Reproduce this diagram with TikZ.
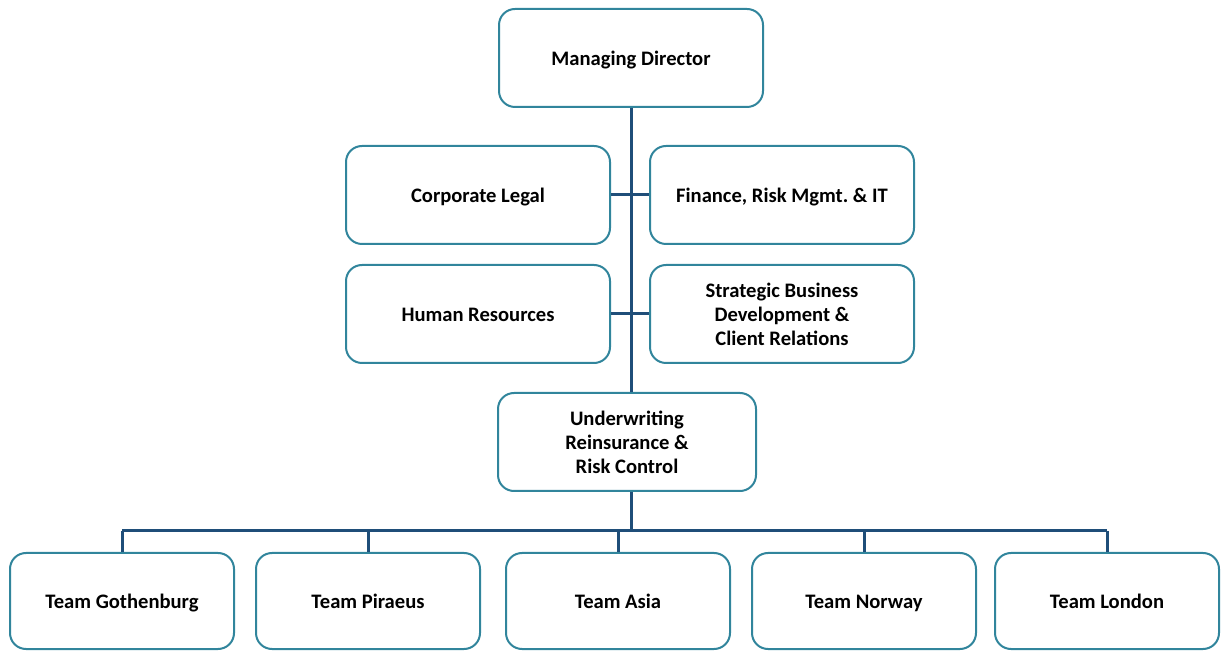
\documentclass[tikz,border=0pt]{standalone}
\usepackage{fontspec}
\setmainfont{Carlito}
\usepackage{tikz}
\usetikzlibrary{positioning}

\definecolor{boxteal}{RGB}{49,133,156}
\definecolor{linenavy}{RGB}{31,78,121}

\tikzset{
    unit/.style={draw=boxteal, line width=1pt, rounded corners=8pt,
                 fill=white, align=center,
                 minimum width=132pt, minimum height=49pt,
                 font=\fontsize{10.3}{12}\selectfont\bfseries},
    oneline/.style={text height=9pt, text depth=1pt},
    team/.style={unit, oneline, minimum width=112pt, minimum height=48pt},
    link/.style={draw=linenavy, line width=1.5pt}
}

\begin{document}
\begin{tikzpicture}[x=0.5pt,
            y=-0.5pt]

        \useasboundingbox (0,0) rectangle (1226,651);

        \node[unit,oneline] (md)    at (631,58)  {Managing Director};
        \node[unit,oneline] (legal) at (478,195) {Corporate Legal};
        \node[unit,oneline] (fin)   at (782,195) {Finance, Risk Mgmt.\ \& IT};
        \node[unit,oneline] (hr)    at (478,314) {Human Resources};
        \node[unit]         (sbd)   at (782,314) {Strategic Business\\Development \&\\Client Relations};
        \node[unit, minimum width=129pt] (uw) at (627,442) {Underwriting\\Reinsurance \&\\Risk Control};

        \node[team] (t1) at (122,601)  {Team Gothenburg};
        \node[team] (t2) at (368,601)  {Team Piraeus};
        \node[team] (t3) at (618,601)  {Team Asia};
        \node[team] (t4) at (864,601)  {Team Norway};
        \node[team] (t5) at (1107,601) {Team London};

        \coordinate (bus) at (0,531);

        \path[link] (md.south) -- (md.south |- uw.north)
                    (legal.east) -- (fin.west)
                    (hr.east) -- (sbd.west)
                    (md.south |- uw.south) -- (md.south |- bus)
                    (t1.north |- bus) -- (t5.north |- bus);
        \foreach \t in {t1,t2,t3,t4,t5}
            \path[link] (\t.north |- bus) -- (\t.north);

    \end{tikzpicture}
\end{document}
